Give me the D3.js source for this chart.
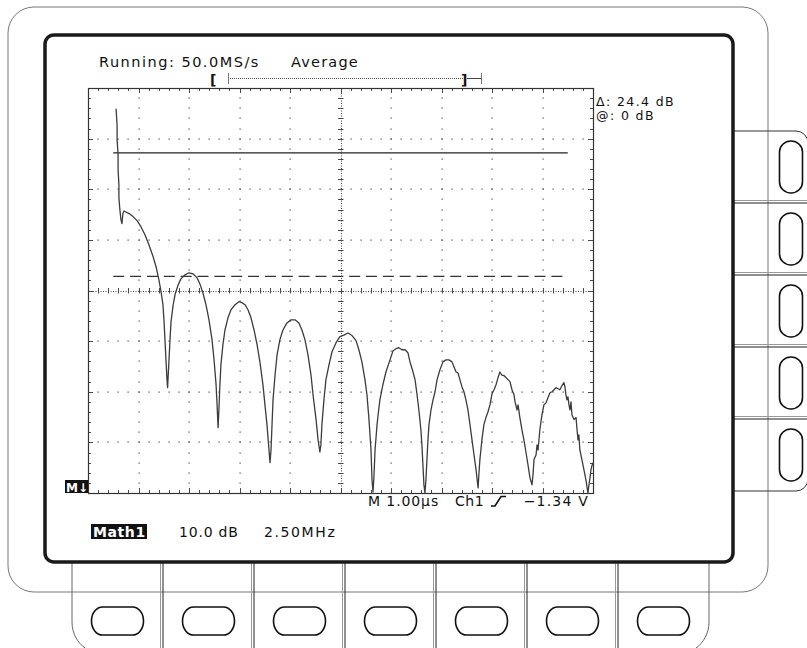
<!DOCTYPE html>
<html>
<head>
<meta charset="utf-8">
<script src="https://cdn.jsdelivr.net/npm/d3@7"></script>
<style>
  body { margin: 0; background: #fff; }
  svg { display: block; }
  text { font-family: "DejaVu Sans", sans-serif; fill: #111; }
</style>
</head>
<body>
<svg id="scope" width="807" height="648"></svg>
<script>
// FFT magnitude of Math1 (frequency in MHz, level in dB)
const freqMHz = [
  1.39,1.44,1.44,1.49,1.49,1.53,1.53,1.58,1.63,1.68,
  1.73,1.78,1.88,2.03,2.23,2.43,2.62,2.82,3.02,3.22,
  3.37,3.51,3.61,3.71,3.76,3.81,3.86,3.91,3.94,3.96,
  4.01,4.06,4.11,4.21,4.31,4.46,4.60,4.80,5.00,5.20,
  5.40,5.54,5.69,5.84,5.99,6.14,6.24,6.34,6.39,6.44,
  6.48,6.53,6.58,6.68,6.78,6.93,7.08,7.28,7.47,7.62,
  7.77,7.92,8.07,8.22,8.37,8.51,8.66,8.76,8.86,8.96,
  9.01,9.06,9.11,9.16,9.26,9.36,9.50,9.65,9.85,10.05,
  10.25,10.44,10.59,10.74,10.89,11.04,11.14,11.29,11.39,11.48,
  11.53,11.58,11.68,11.78,11.93,12.08,12.28,12.47,12.67,12.87,
  13.07,13.27,13.41,13.56,13.71,13.81,13.91,14.01,14.06,14.11,
  14.16,14.21,14.31,14.36,14.45,14.60,14.75,14.95,15.10,15.25,
  15.39,15.54,15.69,15.84,15.94,16.09,16.19,16.29,16.38,16.48,
  16.53,16.58,16.63,16.68,16.73,16.78,16.83,16.88,16.98,17.08,
  17.18,17.28,17.42,17.57,17.72,17.87,18.02,18.12,18.22,18.32,
  18.41,18.51,18.61,18.71,18.81,18.91,19.01,19.11,19.21,19.31,
  19.35,19.40,19.45,19.50,19.60,19.70,19.80,19.90,20.00,20.10,
  20.20,20.30,20.39,20.49,20.59,20.69,20.79,20.89,20.99,21.09,
  21.14,21.24,21.29,21.38,21.48,21.58,21.68,21.78,21.88,21.98,
  22.03,22.08,22.18,22.23,22.28,22.37,22.47,22.57,22.67,22.77,
  22.87,22.97,23.07,23.17,23.27,23.36,23.46,23.56,23.61,23.66,
  23.71,23.76,23.81,23.86,23.91,23.96,24.06,24.16,24.21,24.26,
  24.30,24.35,24.45,24.55,24.65,24.75,24.80,24.85,24.90,24.95,
  25.00
];
const levelDb = [
  8.7,5.5,2.6,-0.4,-3.4,-6.3,-8.9,-11.3,-13.2,-14.0,
  -12.0,-11.5,-11.7,-12.0,-12.6,-13.4,-14.6,-16.2,-18.2,-20.5,
  -22.5,-25.1,-27.3,-30.0,-33.0,-36.9,-40.9,-44.8,-46.4,-44.8,
  -40.9,-36.9,-33.4,-30.2,-28.0,-26.1,-24.9,-24.1,-23.7,-23.9,
  -24.7,-25.9,-27.7,-30.0,-33.0,-36.9,-40.9,-45.8,-49.8,-54.3,
  -50.8,-45.8,-41.9,-37.9,-35.0,-32.6,-31.0,-30.0,-29.4,-29.6,
  -30.0,-31.0,-32.6,-35.0,-37.9,-41.3,-45.8,-49.8,-53.7,-58.7,
  -61.2,-58.7,-53.7,-48.8,-43.9,-39.9,-36.9,-35.0,-33.6,-33.0,
  -33.0,-33.6,-35.0,-36.9,-39.9,-43.9,-47.8,-52.7,-56.7,-59.1,
  -57.7,-53.7,-48.8,-44.8,-41.9,-39.3,-37.5,-36.3,-36.0,-35.6,
  -36.1,-37.1,-38.9,-41.3,-44.8,-47.8,-52.7,-58.7,-64.6,-67.0,
  -63.6,-58.7,-53.7,-51.8,-48.8,-45.8,-43.3,-40.9,-39.1,-38.7,
  -38.5,-38.9,-38.9,-39.5,-41.3,-43.3,-44.8,-47.8,-50.8,-54.7,
  -57.7,-61.6,-65.6,-67.2,-64.6,-60.6,-56.7,-53.7,-50.8,-48.8,
  -47.2,-44.8,-42.9,-41.3,-40.9,-40.9,-41.3,-42.3,-43.3,-43.5,
  -44.8,-46.2,-47.2,-48.8,-50.8,-53.7,-56.7,-59.7,-62.6,-66.2,
  -63.6,-60.6,-58.7,-56.7,-53.7,-52.3,-51.2,-49.8,-47.6,-46.8,
  -45.8,-44.4,-43.3,-43.9,-44.0,-44.4,-44.8,-45.2,-46.8,-47.8,
  -49.2,-50.8,-49.8,-52.3,-54.7,-56.7,-59.1,-61.6,-64.2,-65.6,
  -63.6,-60.6,-59.7,-57.7,-58.7,-54.7,-51.8,-49.8,-49.4,-48.4,
  -47.4,-47.2,-46.8,-46.4,-46.6,-46.8,-46.0,-45.4,-46.2,-47.8,
  -48.8,-48.2,-49.8,-50.8,-49.2,-51.8,-52.7,-52.3,-54.7,-56.7,
  -55.7,-58.7,-60.6,-62.6,-64.6,-67.2,-65.6,-64.2,-62.6,-61.8,
  -61.2
];

// Horizontal bar cursors (dB) and the span they are drawn across (MHz)
const cursorDb = [0, -24.4];
const cursorSpanMHz = [1.25, 23.75];

// Display settings
const mhzPerDiv = 2.5;
const dbPerDiv = 10;
const divsX = 10;
const divsY = 8;
const topDb = 12.8;

// On-screen readouts
const statusTexts = ["Running: 50.0MS/s", "Average"];
const cursorTexts = ["\u0394: 24.4 dB", "@: 0 dB"];
const timebaseTexts = ["M 1.00\u00b5s", "Ch1", "\u22121.34 V"];
const mathTexts = ["Math1", "10.0 dB", "2.50MHz"];

const svg = d3.select("#scope");

// ---------- instrument bezel ----------
const bezel = svg.append("g").attr("fill", "none");

// outer housing outline
bezel.append("rect")
  .attr("x", 8).attr("y", 7).attr("width", 760).attr("height", 585)
  .attr("rx", 26).attr("stroke", "#777").attr("stroke-width", 1);

// side menu buttons (right)
const sideTop = 131, sideCell = 72, sideCount = 5;
bezel.append("path")
  .attr("d", `M733,${sideTop} H796 A12,12 0 0 1 808,${sideTop + 12}`)
  .attr("stroke", "#333");
bezel.append("path")
  .attr("d", `M733,${sideTop + sideCell * sideCount} H796 A12,12 0 0 0 808,${sideTop + sideCell * sideCount - 12}`)
  .attr("stroke", "#333");
for (let k = 1; k < sideCount; k++) {
  const yy = sideTop + sideCell * k;
  bezel.append("line").attr("x1", 733).attr("x2", 807).attr("y1", yy - 2.5).attr("y2", yy - 2.5).attr("stroke", "#999");
  bezel.append("line").attr("x1", 733).attr("x2", 807).attr("y1", yy).attr("y2", yy).attr("stroke", "#222");
}
function vStadium(cx, cy, w, h) {
  const r = w / 2, b = 11, half = h / 2 - b;
  return `M${cx - r},${cy - half} V${cy + half} A${r},${b} 0 0 0 ${cx + r},${cy + half} V${cy - half} A${r},${b} 0 0 0 ${cx - r},${cy - half} Z`;
}
for (let k = 0; k < sideCount; k++) {
  bezel.append("path")
    .attr("d", vStadium(791, sideTop + sideCell * k + sideCell / 2, 23, 52))
    .attr("stroke", "#111").attr("stroke-width", 1.6);
}

// bottom menu buttons
const botLeft = 72, botCell = 91, botCount = 7;
const botRight = botLeft + botCell * botCount;
bezel.append("path")
  .attr("d", `M${botLeft},563 V622 C${botLeft},634 ${botLeft + 6},643 ${botLeft + 13},648`)
  .attr("stroke", "#666");
bezel.append("path")
  .attr("d", `M${botRight},563 V622 C${botRight},634 ${botRight - 6},643 ${botRight - 13},648`)
  .attr("stroke", "#666");
for (let k = 1; k < botCount; k++) {
  const xx = botLeft + botCell * k;
  bezel.append("line").attr("x1", xx - 2.5).attr("x2", xx - 2.5).attr("y1", 563).attr("y2", 648).attr("stroke", "#999");
  bezel.append("line").attr("x1", xx).attr("x2", xx).attr("y1", 563).attr("y2", 648).attr("stroke", "#222");
}
function hStadium(cx, cy, w, h) {
  const r = h / 2, b = 11, half = w / 2 - b;
  return `M${cx - half},${cy - r} H${cx + half} A${b},${r} 0 0 1 ${cx + half},${cy + r} H${cx - half} A${b},${r} 0 0 1 ${cx - half},${cy - r} Z`;
}
for (let k = 0; k < botCount; k++) {
  bezel.append("path")
    .attr("d", hStadium(botLeft + botCell * k + botCell / 2, 621, 52, 28))
    .attr("stroke", "#111").attr("stroke-width", 1.6);
}

// display screen
svg.append("rect")
  .attr("x", 45).attr("y", 35).attr("width", 688).attr("height", 527)
  .attr("rx", 9).attr("fill", "#fff").attr("stroke", "#1a1a1a").attr("stroke-width", 3.5);

// ---------- graticule ----------
const x = d3.scaleLinear().domain([0, mhzPerDiv * divsX]).range([88, 593]);
const y = d3.scaleLinear().domain([topDb - dbPerDiv * divsY, topDb]).range([493, 88]);

const grid = svg.append("g");
const gc = "#4a4a4a";
const xMinor = d3.range(divsX * 5 + 1).map(i => i * mhzPerDiv / 5);
const yMinor = d3.range(divsY * 5 + 1).map(i => y.domain()[0] + i * dbPerDiv / 5);
const xCenter = mhzPerDiv * divsX / 2;
const yCenter = y.domain()[0] + dbPerDiv * divsY / 2;

// dotted division lines
for (let i = 1; i < divsX; i++) {
  if (i === divsX / 2) continue;
  const xv = i * mhzPerDiv;
  yMinor.slice(1, -1).forEach(yv => {
    grid.append("rect").attr("x", Math.round(x(xv)) - 0.5).attr("y", Math.round(y(yv)) - 0.5)
      .attr("width", 1.2).attr("height", 1.2).attr("fill", gc);
  });
}
for (let j = 1; j < divsY; j++) {
  if (j === divsY / 2) continue;
  const yv = y.domain()[0] + j * dbPerDiv;
  xMinor.slice(1, -1).forEach(xv => {
    grid.append("rect").attr("x", Math.round(x(xv)) - 0.5).attr("y", Math.round(y(yv)) - 0.5)
      .attr("width", 1.2).attr("height", 1.2).attr("fill", gc);
  });
}

// center crosshair with minor ticks
grid.append("line")
  .attr("x1", x(0)).attr("x2", x(xMinor[xMinor.length - 1]))
  .attr("y1", Math.round(y(yCenter)) + 0.5).attr("y2", Math.round(y(yCenter)) + 0.5)
  .attr("stroke", gc).attr("stroke-dasharray", "1 1.5");
grid.append("line")
  .attr("y1", y.range()[1]).attr("y2", y.range()[0])
  .attr("x1", Math.round(x(xCenter)) + 0.5).attr("x2", Math.round(x(xCenter)) + 0.5)
  .attr("stroke", gc).attr("stroke-dasharray", "1 1.5");
xMinor.forEach(xv => {
  grid.append("line").attr("x1", Math.round(x(xv)) + 0.5).attr("x2", Math.round(x(xv)) + 0.5)
    .attr("y1", y(yCenter) - 2.5).attr("y2", y(yCenter) + 3).attr("stroke", gc);
});
yMinor.forEach(yv => {
  grid.append("line").attr("y1", Math.round(y(yv)) + 0.5).attr("y2", Math.round(y(yv)) + 0.5)
    .attr("x1", x(xCenter) - 2.5).attr("x2", x(xCenter) + 3).attr("stroke", gc);
});

// border ticks
xMinor.slice(1, -1).forEach((xv, i) => {
  const len = (i + 1) % 5 === 0 ? 5 : 3;
  const px = Math.round(x(xv)) + 0.5;
  grid.append("line").attr("x1", px).attr("x2", px).attr("y1", y.range()[1]).attr("y2", y.range()[1] + len).attr("stroke", gc);
  grid.append("line").attr("x1", px).attr("x2", px).attr("y1", y.range()[0]).attr("y2", y.range()[0] - len).attr("stroke", gc);
});
yMinor.slice(1, -1).forEach((yv, i) => {
  const len = (i + 1) % 5 === 0 ? 5 : 3;
  const py = Math.round(y(yv)) + 0.5;
  grid.append("line").attr("y1", py).attr("y2", py).attr("x1", x.range()[0]).attr("x2", x.range()[0] + len).attr("stroke", gc);
  grid.append("line").attr("y1", py).attr("y2", py).attr("x1", x.range()[1]).attr("x2", x.range()[1] - len).attr("stroke", gc);
});

// frame
grid.append("rect")
  .attr("x", x.range()[0] + 0.5).attr("y", y.range()[1] + 0.5)
  .attr("width", x.range()[1] - x.range()[0]).attr("height", y.range()[0] - y.range()[1])
  .attr("fill", "none").attr("stroke", "#333").attr("stroke-width", 1.2);

// ---------- cursors ----------
svg.append("line")
  .attr("x1", x(cursorSpanMHz[0])).attr("x2", x(cursorSpanMHz[1]))
  .attr("y1", y(cursorDb[0])).attr("y2", y(cursorDb[0]))
  .attr("stroke", "#222").attr("stroke-width", 1.2);
svg.append("line")
  .attr("x1", x(cursorSpanMHz[0])).attr("x2", x(cursorSpanMHz[1]))
  .attr("y1", y(cursorDb[1])).attr("y2", y(cursorDb[1]))
  .attr("stroke", "#333").attr("stroke-width", 1.4).attr("stroke-dasharray", "11 5.85");

// ---------- trace ----------
svg.append("clipPath").attr("id", "plotClip")
  .append("rect").attr("x", x.range()[0]).attr("y", y.range()[1])
  .attr("width", x.range()[1] - x.range()[0] + 1).attr("height", y.range()[0] - y.range()[1] + 1);

const points = freqMHz.map((f, i) => [f, levelDb[i]]);
svg.append("path")
  .datum(points)
  .attr("clip-path", "url(#plotClip)")
  .attr("fill", "none")
  .attr("stroke", "#3c3c3c")
  .attr("stroke-width", 1.3)
  .attr("stroke-linejoin", "round")
  .attr("d", d3.line().x(d => x(d[0])).y(d => y(d[1])));

// ---------- readouts ----------
const txt = svg.append("g");
txt.append("text").attr("x", 99).attr("y", 67).attr("font-size", 14.5).attr("letter-spacing", 1.5).text(statusTexts[0]);
txt.append("text").attr("x", 291).attr("y", 67).attr("font-size", 14.5).attr("letter-spacing", 1.2).text(statusTexts[1]);

// record view bar
txt.append("text").attr("x", 210).attr("y", 85).attr("font-size", 14).attr("font-weight", "bold").text("[");
txt.append("text").attr("x", 461).attr("y", 85).attr("font-size", 14).attr("font-weight", "bold").text("]");
svg.append("line").attr("x1", 228).attr("x2", 463).attr("y1", 78.5).attr("y2", 78.5)
  .attr("stroke", "#555").attr("stroke-dasharray", "1 1");
svg.append("line").attr("x1", 228.5).attr("x2", 228.5).attr("y1", 73).attr("y2", 84).attr("stroke", "#777");
svg.append("line").attr("x1", 467).attr("x2", 481).attr("y1", 78.5).attr("y2", 78.5).attr("stroke", "#444");
svg.append("line").attr("x1", 481.5).attr("x2", 481.5).attr("y1", 73).attr("y2", 84).attr("stroke", "#777");

// cursor readouts
txt.append("text").attr("x", 596).attr("y", 106).attr("font-size", 12.5).attr("letter-spacing", 1.4).text(cursorTexts[0]);
txt.append("text").attr("x", 596).attr("y", 119.5).attr("font-size", 12.5).attr("letter-spacing", 1.4).text(cursorTexts[1]);

// reference marker
svg.append("rect").attr("x", 65).attr("y", 480).attr("width", 23).attr("height", 13).attr("fill", "#111");
svg.append("text").attr("x", 66).attr("y", 491.5).attr("font-size", 12).attr("font-weight", "bold")
  .style("fill", "#fff").text("M\u2193");

// timebase / trigger readout
txt.append("text").attr("x", 368).attr("y", 506).attr("font-size", 14).attr("letter-spacing", 0.9).text(timebaseTexts[0]);
txt.append("text").attr("x", 455).attr("y", 506).attr("font-size", 14).attr("letter-spacing", 0.5).text(timebaseTexts[1]);
svg.append("path").attr("d", "M491,506 H495 L501,496.5 H506").attr("fill", "none")
  .attr("stroke", "#111").attr("stroke-width", 1.6);
txt.append("text").attr("x", 589).attr("y", 506).attr("font-size", 14).attr("letter-spacing", 1.2)
  .attr("text-anchor", "end").text(timebaseTexts[2]);

// math waveform readout
svg.append("rect").attr("x", 91).attr("y", 524).attr("width", 56).attr("height", 15).attr("fill", "#111");
svg.append("text").attr("x", 93).attr("y", 537).attr("font-size", 14).attr("font-weight", "bold")
  .attr("letter-spacing", 0.6).style("fill", "#fff").text(mathTexts[0]);
txt.append("text").attr("x", 179).attr("y", 537).attr("font-size", 14).attr("letter-spacing", 0.8).text(mathTexts[1]);
txt.append("text").attr("x", 264).attr("y", 537).attr("font-size", 14).attr("letter-spacing", 1.6).text(mathTexts[2]);
</script>
</body>
</html>
